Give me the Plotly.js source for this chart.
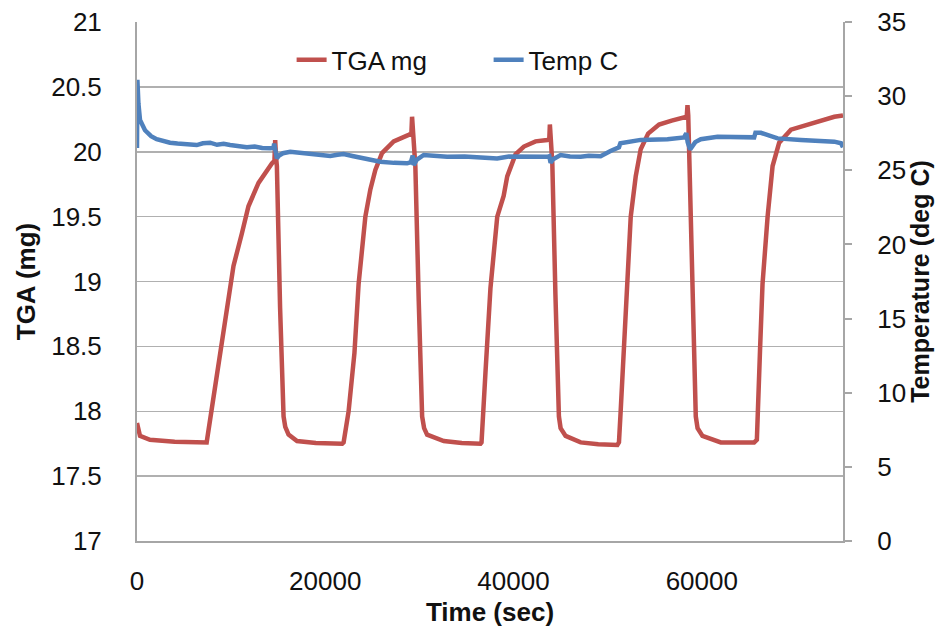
<!DOCTYPE html>
<html>
<head>
<meta charset="utf-8">
<script src="https://cdn.plot.ly/plotly-3.0.1.min.js"></script>
<style>html,body{margin:0;padding:0;background:#fff;}#chart{width:945px;height:634px;}</style>
</head>
<body>
<div id="chart"></div>
<script>
// ---- Data ----
const tgaTime = [0,320,1380,4000,7400,7770,7940,8650,9360,10250,11140,11840,12910,13800,14330,14600,14680,14760,14860,15200,15570,15750,16100,17000,19000,21800,
  21950,22480,23100,23540,24260,24790,25320,26030,27270,28860,29150,29220,29300,29570,29930,30290,30500,30820,32590,34500,36490,
  36600,37020,37550,38270,38850,38950,39330,40210,41100,42340,43580,43800,43860,43940,44120,44450,44820,45000,45530,47130,49000,51030,
  51200,51380,51730,51950,52450,52980,53510,54300,55460,56800,57940,58400,58480,58560,58650,59000,59360,59550,60070,62020,65560,
  65850,65990,66200,66450,66990,67520,68220,69470,71600,74080,75000];
const tgaMg = [17.91,17.81,17.78,17.765,17.76,17.94,18.0,18.34,18.74,19.12,19.37,19.58,19.76,19.86,19.91,19.93,20.09,19.97,19.89,18.8,17.96,17.88,17.82,17.77,17.755,17.75,
  17.76,18.0,18.45,18.98,19.5,19.71,19.86,19.99,20.08,20.13,20.14,20.27,20.15,19.89,18.85,17.96,17.87,17.82,17.77,17.755,17.75,
  17.76,18.3,18.95,19.5,19.63,19.66,19.81,19.98,20.04,20.08,20.09,20.10,20.21,20.11,19.91,18.9,17.96,17.87,17.81,17.76,17.745,17.74,
  17.76,18.0,18.5,18.95,19.5,19.81,20.02,20.14,20.21,20.24,20.26,20.27,20.36,20.28,20.02,18.9,17.96,17.87,17.81,17.76,17.76,
  17.78,18.0,18.5,18.98,19.5,19.89,20.07,20.17,20.22,20.27,20.28];

const tempTime = [0,40,150,320,850,1500,2090,2800,3510,4300,5000,5500,6350,7000,7770,8500,9200,9890,10800,11670,12500,13300,14150,14500,14570,14700,14860,15100,15500,
  16280,17000,17690,19000,20530,21300,21950,23000,24080,25000,25850,27300,28690,29100,29290,29400,29700,30460,31500,32950,34800,36490,38260,39500,
  40740,42200,43580,43800,43940,44200,45000,46000,47130,48000,49250,50300,50900,51200,51350,52450,53500,56350,58120,58350,58500,58760,59300,59890,
  61670,65560,65700,66280,67000,68050,70530,74080,74790,75000];
const tempC = [26.5,31.1,29.5,28.4,27.7,27.3,27.1,26.95,26.86,26.8,26.75,26.72,26.7,26.82,26.86,26.72,26.78,26.7,26.62,26.55,26.6,26.5,26.48,26.5,26.8,26.4,25.8,26.0,26.15,
  26.25,26.2,26.14,26.05,25.96,26.05,26.1,25.95,25.8,25.65,25.58,25.5,25.47,25.55,26.0,25.35,25.7,26.03,25.95,25.91,25.93,25.88,25.8,25.93,
  25.91,25.95,25.91,25.95,25.5,25.75,26.03,25.93,25.91,25.98,25.95,26.3,26.5,26.55,26.82,26.97,27.05,27.1,27.22,27.5,26.9,26.4,26.9,27.1,
  27.26,27.22,27.53,27.53,27.35,27.15,27.04,26.93,26.82,26.55];

const xTicks = [0,20000,40000,60000];
const yLeftTicks = [17,17.5,18,18.5,19,19.5,20,20.5,21];
const yRightTicks = [0,5,10,15,20,25,30,35];

const FONT = 'Liberation Sans, Arial, sans-serif';
const TXT = '#111';
const traces = [
  {x: tgaTime, y: tgaMg, name: 'TGA mg', type: 'scatter', mode: 'lines', yaxis: 'y',
   line: {color: '#C0504D', width: 4.5}},
  {x: tempTime, y: tempC, name: 'Temp C', type: 'scatter', mode: 'lines', yaxis: 'y2',
   line: {color: '#4F81BD', width: 4.5}}
];

const layout = {
  width: 945, height: 634,
  margin: {l: 137, r: 102, t: 22, b: 93},
  paper_bgcolor: '#fff', plot_bgcolor: '#fff',
  font: {family: FONT, size: 26, color: TXT},
  showlegend: true,
  legend: {orientation: 'h', x: 0.219, y: 0.927, xanchor: 'left', yanchor: 'middle',
           font: {family: FONT, size: 26, color: TXT}, bgcolor: 'rgba(0,0,0,0)',
           entrywidth: 152, traceorder: 'normal'},
  xaxis: {range: [0, 75000], tickvals: xTicks, ticktext: xTicks.map(String),
          tickfont: {family: FONT, size: 26, color: TXT},
          showgrid: false, zeroline: false, showline: true, linecolor: '#a6a6a6', linewidth: 2,
          ticks: '', ticklabelstandoff: 16,
          title: {text: 'Time (sec)', font: {family: FONT, size: 26, weight: 'bold', color: TXT}, standoff: 8}},
  yaxis: {range: [17, 21], tickvals: yLeftTicks, ticktext: yLeftTicks.map(String),
          tickfont: {family: FONT, size: 26, color: TXT},
          showgrid: true, gridcolor: '#b0b0b0', gridwidth: 1.5, zeroline: false,
          showline: true, linecolor: '#a6a6a6', linewidth: 2, ticks: '', ticklabelstandoff: 28,
          title: {text: 'TGA (mg)', font: {family: FONT, size: 26, weight: 'bold', color: TXT}, standoff: 8}},
  yaxis2: {range: [0, 35], tickvals: yRightTicks, ticktext: yRightTicks.map(String),
           tickfont: {family: FONT, size: 26, color: TXT},
           overlaying: 'y', side: 'right', showgrid: false, zeroline: false,
           showline: true, linecolor: '#a6a6a6', linewidth: 2,
           ticks: 'outside', ticklen: 7, tickcolor: '#a6a6a6', tickwidth: 2, ticklabelstandoff: 20,
           title: {text: 'Temperature (deg C)', font: {family: FONT, size: 25, weight: 'bold', color: TXT}, standoff: 6}}
};

Plotly.newPlot('chart', traces, layout, {displayModeBar: false, staticPlot: true});
</script>
</body>
</html>
